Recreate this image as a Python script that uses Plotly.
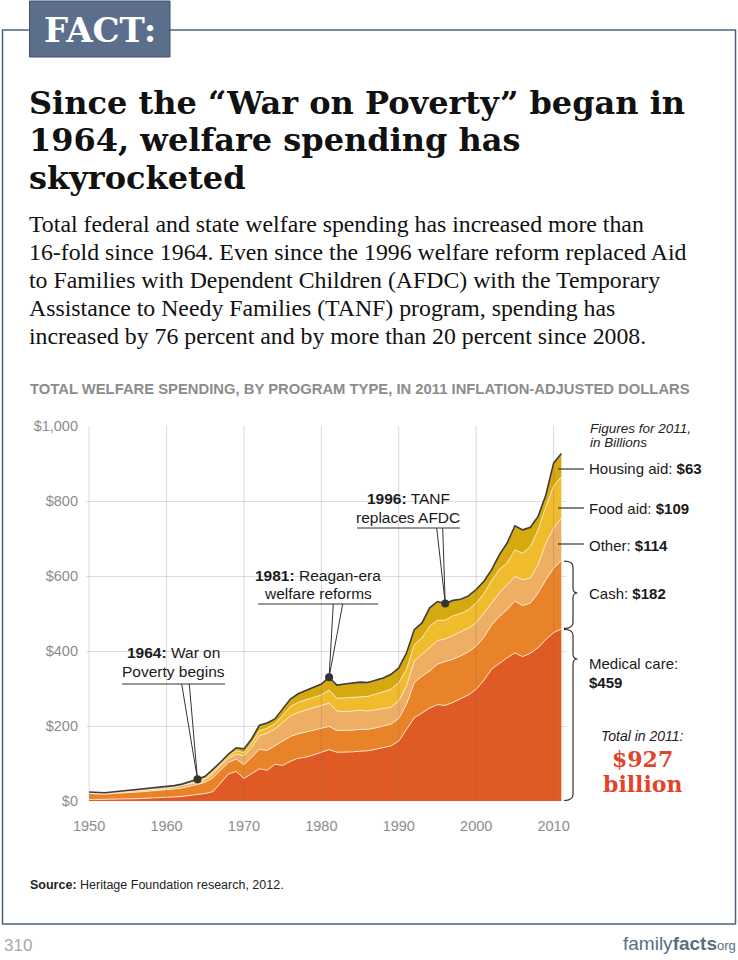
import plotly.graph_objects as go

# ---------------- data (billions, 2011 dollars) ----------------
years = list(range(1950, 2012))
medical = [4, 4, 4, 5, 5, 6, 6, 7, 8, 8,
           9, 10, 12, 15, 17, 20, 25, 50, 72, 79,
           60, 73, 86, 82, 98, 95, 106, 114, 117, 123,
           130, 137, 130, 130, 131, 133, 134, 138, 142, 147,
           160, 191, 222, 235, 248, 257, 255, 263, 272, 283,
           298, 322, 352, 368, 382, 395, 385, 394, 409, 431,
           449, 459]
cash = [16, 15, 14, 15, 16, 17, 18, 18, 19, 20,
        20, 22, 23, 24, 27, 30, 37, 33, 31, 33,
        37, 44, 52, 53, 50, 66, 66, 65, 67, 65,
        62, 62, 58, 58, 58, 58, 57, 57, 57, 58,
        60, 67, 94, 98, 99, 108, 117, 115, 115, 115,
        115, 115, 118, 124, 129, 138, 136, 134, 146, 159,
        172, 182]
other = [2, 2, 2, 2, 3, 3, 3, 3, 3, 4,
         4, 5, 5, 5, 6, 7, 10, 12, 10, 13,
         24, 26, 36, 46, 44, 48, 55, 57, 59, 62,
         63, 62, 52, 50, 51, 51, 49, 48, 47, 45,
         47, 49, 57, 58, 62, 63, 60, 63, 63, 63,
         62, 63, 58, 63, 66, 66, 69, 67, 75, 98,
         107, 114]
food = [1, 1, 1, 1, 1, 1, 1, 2, 2, 2,
        2, 2, 2, 3, 4, 4, 6, 4, 7, 9,
        8, 11, 13, 13, 14, 19, 25, 27, 27, 27,
        28, 35, 34, 37, 37, 37, 39, 42, 45, 48,
        49, 44, 44, 44, 57, 54, 50, 53, 50, 49,
        53, 53, 60, 63, 58, 71, 71, 84, 93, 97,
        112, 109]
housing = [1, 1, 1, 1, 1, 1, 2, 1, 1, 2,
           2, 2, 3, 4, 4, 5, 6, 5, 5, 8,
           10, 12, 15, 14, 13, 18, 20, 23, 24, 26,
           29, 34, 35, 37, 38, 38, 37, 37, 37, 40,
           39, 44, 40, 40, 49, 50, 45, 41, 38, 37,
           36, 33, 29, 39, 53, 64, 62, 51, 36, 31,
           61, 63]

series_names = ["Medical care", "Cash", "Other", "Food aid", "Housing aid"]
series_values = [medical, cash, other, food, housing]
series_colors = ["#e05a25", "#e8832a", "#eeae64", "#f0bb2c", "#d5a90f"]

label_2011 = {"Housing aid": 63, "Food aid": 109, "Other": 114, "Cash": 182, "Medical care": 459}
total_2011 = 927

event_years = [1964, 1981, 1996]
event_bold = ["1964:", "1981:", "1996:"]
event_text = [["War on", "Poverty begins"], ["Reagan-era", "welfare reforms"], ["TANF", "replaces AFDC"]]

x_tickvals = [1950, 1960, 1970, 1980, 1990, 2000, 2010]
y_tickvals = [0, 200, 400, 600, 800, 1000]
y_ticktext = ["$0", "$200", "$400", "$600", "$800", "$1,000"]

X_RANGE = [1949.6, 2011.6]
Y_RANGE = [0, 1000]

totals = [sum(v) for v in zip(*series_values)]

# ---------------- layout helpers (pixel -> paper) ----------------
W, H = 738, 960
PL, PR, PT, PB = 86, 566, 426, 801


def fx(x):
    return (x - PL) / (PR - PL)


def fy(y):
    return (PB - y) / (PB - PT)


def dx(year):
    return (year - X_RANGE[0]) / (X_RANGE[1] - X_RANGE[0])


def dy(v):
    return (v - Y_RANGE[0]) / (Y_RANGE[1] - Y_RANGE[0])


def ypx(v):
    return PB - dy(v) * (PB - PT)


def pt(x, y):
    return f"{fx(x):.5f},{fy(y):.5f}"


SANS = "Liberation Sans, Arial, sans-serif"
SERIF = "Liberation Serif, Times New Roman, serif"
SLAB = "DejaVu Serif, serif"

fig = go.Figure()

for name, vals, col in zip(series_names, series_values, series_colors):
    top = name == series_names[-1]
    fig.add_trace(go.Scatter(
        x=years, y=vals, name=name, mode="lines", stackgroup="one",
        fillcolor=col,
        line=dict(color="#3d3d3d" if top else "rgba(255,238,215,0.85)",
                  width=1.6 if top else 1.0),
        hoverinfo="skip",
    ))

fig.add_trace(go.Scatter(
    x=event_years, y=[totals[years.index(e)] for e in event_years],
    mode="markers", marker=dict(color="#333333", size=8),
    hoverinfo="skip", showlegend=False,
))

shapes = []
annotations = []


def note(text, x, y, size, color="#1a1a1a", family=SANS, xanchor="left",
         yanchor="middle", weight="normal", style="normal"):
    off = {"left": -2.5, "right": 2.5, "center": 0}[xanchor]
    annotations.append(dict(
        text=text, x=fx(x + off), y=fy(y), xref="paper", yref="paper",
        showarrow=False, xanchor=xanchor, yanchor=yanchor, align=xanchor,
        font=dict(size=size, color=color, family=family, weight=weight, style=style),
    ))


# vertical gridlines drawn over the areas
for xv in x_tickvals:
    shapes.append(dict(type="line", xref="x", yref="paper", x0=xv, x1=xv, y0=0, y1=1,
                       line=dict(color="rgba(110,110,110,0.25)", width=1), layer="above"))

# frame and FACT tab
frame = "M" + pt(2.5, 30) + " L" + pt(2.5, 924) + " L" + pt(735.5, 924) + " L" + pt(735.5, 30) + " Z"
shapes.append(dict(type="path", xref="paper", yref="paper", path=frame,
                   line=dict(color="#4f627b", width=1.5), layer="above"))
shapes.append(dict(type="rect", xref="paper", yref="paper",
                   x0=fx(29.5), x1=fx(170), y0=fy(57), y1=fy(1),
                   fillcolor="#5b6e8c", line=dict(color="#3e506a", width=1), layer="above"))
note("FACT:", 100, 30, 34, color="white", family=SLAB, xanchor="center", weight="bold")

# title
for i, line in enumerate(["Since the “War on Poverty” began in",
                          "1964, welfare spending has",
                          "skyrocketed"]):
    note(line, 29, 103 + i * 37.5, 32, color="#111111", family=SLAB, weight="bold")

# subtitle
sub = ["Total federal and state welfare spending has increased more than",
       "16-fold since 1964. Even since the 1996 welfare reform replaced Aid",
       "to Families with Dependent Children (AFDC) with the Temporary",
       "Assistance to Needy Families (TANF) program, spending has",
       "increased by 76 percent and by more than 20 percent since 2008."]
for i, line in enumerate(sub):
    note(line, 29, 224 + i * 28, 23.8, color="#111111", family=SERIF)

note("TOTAL WELFARE SPENDING, BY PROGRAM TYPE, IN 2011 INFLATION-ADJUSTED DOLLARS",
     30, 389, 14.8, color="#8c8c8c", family="Liberation Sans Narrow, " + SANS, weight="bold")

# event callouts
ev_pos = {
    1964: dict(cx=173.5, l1=652, l2=671, uy=684, u0=122, u1=225, wa=181.7, wb=189.3),
    1981: dict(cx=318, l1=575, l2=593, uy=604, u0=258, u1=378, wa=333.3, wb=342.7),
    1996: dict(cx=408, l1=498, l2=517, uy=528, u0=357, u1=460, wa=436.7, wb=442.7),
}
for e, b, (t1, t2) in zip(event_years, event_bold, event_text):
    p = ev_pos[e]
    note(f"<b>{b}</b> {t1}", p["cx"], p["l1"], 15.5, xanchor="center")
    note(t2, p["cx"], p["l2"], 15.5, xanchor="center")
    shapes.append(dict(type="line", xref="paper", yref="paper",
                       x0=fx(p["u0"]), x1=fx(p["u1"]), y0=fy(p["uy"]), y1=fy(p["uy"]),
                       line=dict(color="#333333", width=1), layer="above"))
    tx, ty = dx(e), dy(totals[years.index(e)])
    path = (f"M{fx(p['wa']):.5f},{fy(p['uy']):.5f} L{tx:.5f},{ty:.5f} "
            f"L{fx(p['wb']):.5f},{fy(p['uy']):.5f}")
    shapes.append(dict(type="path", xref="paper", yref="paper", path=path,
                       line=dict(color="#333333", width=1), layer="above"))

# right-hand labels
note("Figures for 2011,", 590, 428, 13.5, color="#222222", style="italic")
note("in Billions", 590, 442, 13.5, color="#222222", style="italic")

lead = [("Housing aid", 468, 469), ("Food aid", 508, 508), ("Other", 545, 544)]
for name, ty_, ly in lead:
    note(f"{name}: <b>${label_2011[name]}</b>", 589, ty_, 15)
    shapes.append(dict(type="line", xref="paper", yref="paper",
                       x0=fx(558), x1=fx(584), y0=fy(ly), y1=fy(ly),
                       line=dict(color="#333333", width=1.2), layer="above"))


def brace(v_top, v_bot, ym):
    yt, yb = ypx(v_top) + 0.5, ypx(v_bot) - 0.5
    a, b, c = 564, 573, 577.5
    return ("M" + pt(a, yt) + " Q" + pt(b, yt) + " " + pt(b, yt + 6) +
            " L" + pt(b, ym - 5) + " Q" + pt(b, ym) + " " + pt(c, ym) +
            " Q" + pt(b, ym) + " " + pt(b, ym + 5) +
            " L" + pt(b, yb - 6) + " Q" + pt(b, yb) + " " + pt(a, yb))


med_top = label_2011["Medical care"]
cash_top = med_top + label_2011["Cash"]
shapes.append(dict(type="path", xref="paper", yref="paper", path=brace(cash_top, med_top, 593),
                   line=dict(color="#333333", width=1.2), layer="above"))
shapes.append(dict(type="path", xref="paper", yref="paper", path=brace(med_top, 0, 659),
                   line=dict(color="#333333", width=1.2), layer="above"))
note(f"Cash: <b>${label_2011['Cash']}</b>", 589, 593, 15)
note("Medical care:", 589, 663, 15)
note(f"<b>${label_2011['Medical care']}</b>", 589, 682, 15)

note("Total in 2011:", 642, 736, 14, color="#222222", xanchor="center", style="italic")
note(f"${total_2011}", 642, 759, 22, color="#e0452a", family=SLAB, xanchor="center", weight="bold")
note("billion", 642, 784, 22, color="#e0452a", family=SLAB, xanchor="center", weight="bold")

# footer
note("<b>Source:</b> Heritage Foundation research, 2012.", 30, 885, 12.5, color="#222222")
note("310", 4, 945, 17, color="#a8a8a8")
note("family<b>facts</b><span style='font-size:13px'>org</span>", 735, 943, 19,
     color="#5a6e86", xanchor="right")

fig.update_layout(
    width=W, height=H, autosize=False,
    margin=dict(l=PL, r=W - PR, t=PT, b=H - PB, pad=0),
    paper_bgcolor="white", plot_bgcolor="white",
    showlegend=False, hovermode=False,
    xaxis=dict(range=X_RANGE, tickvals=x_tickvals, showgrid=False, zeroline=False,
               showline=False, ticks="", ticklabelstandoff=14,
               tickfont=dict(size=14.5, color="#8c8c8c", family=SANS), fixedrange=True),
    yaxis=dict(range=Y_RANGE, tickvals=y_tickvals, ticktext=y_ticktext, showgrid=True,
               gridcolor="#dedede", gridwidth=1, zeroline=False, showline=False, ticks="",
               ticklabelstandoff=7,
               tickfont=dict(size=14.5, color="#8c8c8c", family=SANS), fixedrange=True),
    shapes=shapes, annotations=annotations,
)

fig.write_html("out.html", config={"displayModeBar": False, "staticPlot": True},
               post_script="document.body.style.margin='0';")
